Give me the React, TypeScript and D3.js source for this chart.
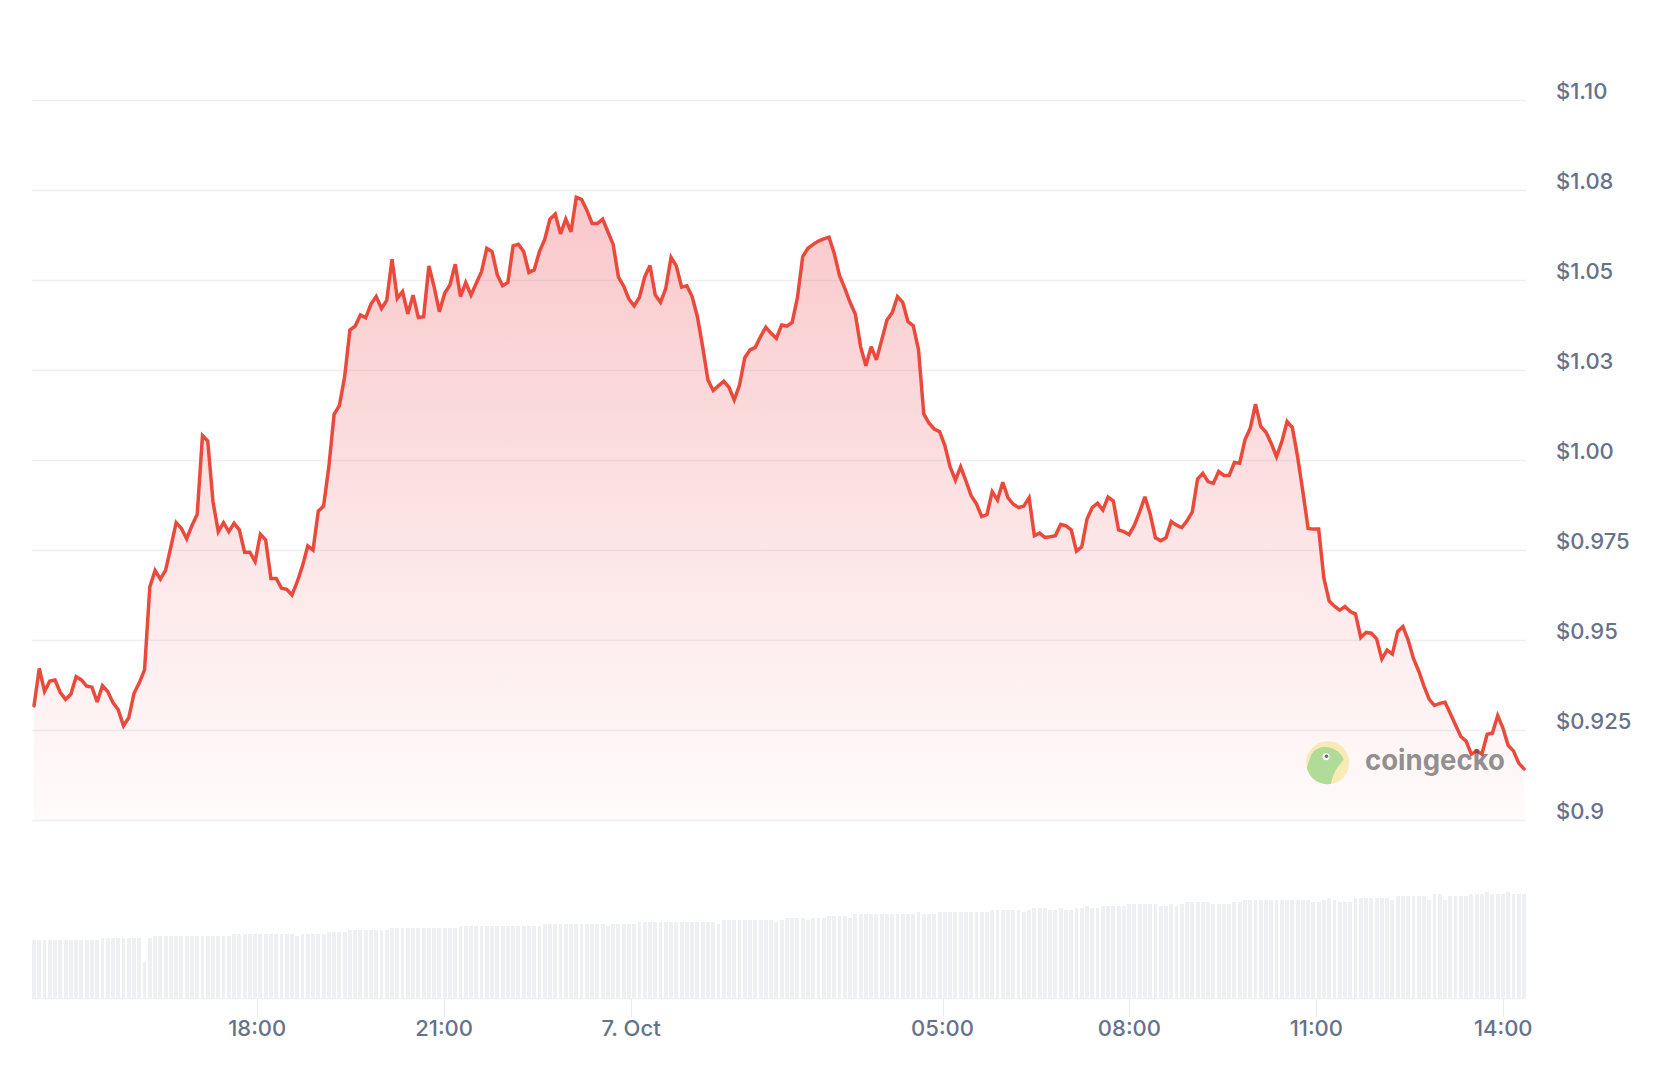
import React from 'react';
import * as d3 from 'd3';

// 5-minute price samples (USD), 6 Oct 14:25 → 7 Oct 14:20 (UTC)
const PRICES: number[] = [
  0.9317, 0.9421, 0.9357, 0.9386, 0.9389, 0.9354, 0.9335, 0.9349, 0.9398, 0.9389,
  0.9372, 0.9369, 0.9328, 0.9373, 0.9357, 0.9326, 0.9306, 0.9262, 0.9284, 0.9352,
  0.9381, 0.9417, 0.9648, 0.9693, 0.9669, 0.9694, 0.9759, 0.9826, 0.9810, 0.9781,
  0.9818, 0.9849, 1.0068, 1.0053, 0.9884, 0.9801, 0.9826, 0.9801, 0.9824, 0.9806,
  0.9744, 0.9744, 0.9718, 0.9794, 0.9778, 0.9671, 0.9671, 0.9644, 0.9641, 0.9625,
  0.9662, 0.9706, 0.9761, 0.9750, 0.9858, 0.9872, 0.9981, 1.0127, 1.0151,
  1.0231, 1.0361, 1.0372, 1.0403, 1.0395, 1.0433, 1.0454, 1.0421, 1.0444, 1.0558,
  1.0449, 1.0468, 1.0406, 1.0458, 1.0396, 1.0398, 1.0539, 1.0481, 1.0412, 1.0463,
  1.0486, 1.0544, 1.0454, 1.0493, 1.0458, 1.0491, 1.0523, 1.0588, 1.0579, 1.0514,
  1.0484, 1.0493, 1.0595, 1.0599, 1.0579, 1.0521, 1.0528, 1.0579, 1.0613, 1.0669,
  1.0683, 1.0628, 1.0669, 1.0634, 1.0730, 1.0724, 1.0694, 1.0657, 1.0657, 1.0669,
  1.0634, 1.0599, 1.0508, 1.0483, 1.0447, 1.0428, 1.0452, 1.0509, 1.0540, 1.0458,
  1.0438, 1.0477, 1.0563, 1.0539, 1.0480, 1.0484, 1.0454, 1.0398, 1.0315, 1.0222,
  1.0193, 1.0206, 1.0219, 1.0202, 1.0167,
  1.0208, 1.0284, 1.0306, 1.0313, 1.0343, 1.0369, 1.0352, 1.0338, 1.0375, 1.0372,
  1.0382, 1.0451, 1.0565, 1.0588, 1.0599, 1.0608, 1.0614, 1.0619, 1.0574, 1.0512,
  1.0477, 1.0438, 1.0405, 1.0315, 1.0262, 1.0315, 1.0278, 1.0333, 1.0389, 1.0409,
  1.0454, 1.0438, 1.0384, 1.0373, 1.0306, 1.0128, 1.0102, 1.0086, 1.0079, 1.0040,
  0.9981, 0.9944, 0.9981, 0.9942, 0.9901, 0.9878, 0.9843, 0.9849, 0.9912, 0.9889,
  0.9938, 0.9895, 0.9877, 0.9868, 0.9872, 0.9895, 0.9790, 0.9797, 0.9785, 0.9787,
  0.9790, 0.9821, 0.9817, 0.9806, 0.9747, 0.9759, 0.9836, 0.9868, 0.9880, 0.9861,
  0.9897, 0.9886, 0.9806, 0.9801, 0.9793,
  0.9819, 0.9856, 0.9898, 0.9850, 0.9784, 0.9776, 0.9784, 0.9829, 0.9819, 0.9812,
  0.9831, 0.9856, 0.9947, 0.9963, 0.9940, 0.9935, 0.9968, 0.9957, 0.9957, 0.9993,
  0.9991, 1.0056, 1.0088, 1.0155, 1.0093, 1.0077, 1.0046, 1.0009, 1.0051, 1.0107,
  1.0090, 1.0009, 0.9912, 0.9810, 0.9808, 0.9808, 0.9671, 0.9608, 0.9594, 0.9583,
  0.9593, 0.9579, 0.9572, 0.9507, 0.9521, 0.9519, 0.9503, 0.9447, 0.9472, 0.9461,
  0.9523, 0.9537, 0.9500, 0.9449, 0.9414, 0.9372, 0.9335, 0.9318, 0.9324, 0.9327,
  0.9296, 0.9264, 0.9232, 0.9219, 0.9183, 0.9192, 0.9183, 0.9238, 0.9241, 0.9290,
  0.9255, 0.9207, 0.9192, 0.9158, 0.9142,
];

// Rolling volume per sample (USD millions)
const VOLUMES: number[] = [
  29, 29, 29, 29, 29, 29, 29, 29, 29, 29, 29, 29, 29,
  30, 30, 30, 30, 30, 30, 30, 30, 18, 30,
  31, 31, 31, 31, 31, 31, 31, 31, 31, 31, 31, 31, 31, 31, 31,
  32, 32, 32, 32, 32, 32, 32, 32, 32, 32, 32, 32, 31, 32, 32, 32, 32, 32,
  33, 33, 33, 33, 34, 34, 34, 34, 34, 34, 34, 34,
  35, 35, 35, 35, 35, 35, 35, 35, 35, 35, 35, 35, 35,
  36, 36, 36, 36, 36, 36, 36, 36, 36, 36, 36, 36, 36, 36, 36, 36,
  37, 37, 37, 37, 37, 37, 37, 37, 37, 37, 37, 37, 36, 37, 37, 37, 37, 37,
  38, 38, 38, 38, 38, 38, 38, 38, 38, 38, 38, 38, 38, 38, 38,
  37, 39, 39, 39, 39, 39, 39, 39, 39, 39, 39, 38, 39,
  40, 40, 40, 40, 39, 40, 40, 40, 41, 41, 41, 41, 40,
  42, 42, 42, 42, 42, 42, 42, 42, 42, 42, 42,
  42, 43, 42, 42, 42,
  43, 43, 43, 43, 43, 43, 43, 43, 43, 43,
  44, 44, 44, 44, 44, 44, 43, 44, 45, 45, 45,
  44, 44, 45, 44, 44, 45, 45, 46, 45, 45,
  46, 46, 46, 46, 46, 47, 47, 47, 47, 47, 47,
  46, 46, 47, 46, 47, 48, 48, 48, 48, 48,
  47, 47, 47, 47, 48, 48,
  49, 49, 49, 49, 49, 49, 49, 49, 49, 49, 49, 49, 49,
  48, 48, 49, 50, 49, 48, 48, 48,
  50, 50, 50, 50, 50, 50, 50, 49,
  51, 51, 51, 51, 51, 51, 49, 52, 52, 49,
  51, 51, 51, 51, 52, 52, 52, 53, 52, 52, 52, 53, 52, 52, 52,
];

const PRICE_TICKS: number[] = [0.9, 0.925, 0.95, 0.975, 1.0, 1.025, 1.05, 1.075, 1.1];
const PRICE_TICK_LABELS: string[] = ['$0.9', '$0.925', '$0.95', '$0.975', '$1.00', '$1.03', '$1.05', '$1.08', '$1.10'];

const TIME_TICKS: Date[] = [
  new Date(Date.UTC(2024, 9, 6, 18, 0)),
  new Date(Date.UTC(2024, 9, 6, 21, 0)),
  new Date(Date.UTC(2024, 9, 7, 0, 0)),
  new Date(Date.UTC(2024, 9, 7, 5, 0)),
  new Date(Date.UTC(2024, 9, 7, 8, 0)),
  new Date(Date.UTC(2024, 9, 7, 11, 0)),
  new Date(Date.UTC(2024, 9, 7, 14, 0)),
];
const TIME_TICK_LABELS: string[] = ['18:00', '21:00', '7. Oct', '05:00', '08:00', '11:00', '14:00'];

const START = new Date(Date.UTC(2024, 9, 6, 14, 25));
const END = new Date(Date.UTC(2024, 9, 7, 14, 20));

const FONT = "Inter, 'Noto Sans', sans-serif";
const LABEL_COLOR = '#66728a';
const LINE_COLOR = '#ea4a3c';

export default function App() {
  const W = 1662;
  const H = 1068;
  const x = d3.scaleUtc().domain([START, END]).range([34, 1524]);
  const y = d3.scaleLinear().domain([0.9, 1.1]).range([820, 100]);
  const yv = d3.scaleLinear().domain([0, 60]).range([998, 878]);

  const n = PRICES.length;
  const span = END.getTime() - START.getTime();
  const times = PRICES.map((_, i) => new Date(START.getTime() + (span * i) / (n - 1)));
  const vTimes = VOLUMES.map((_, i) => new Date(START.getTime() + (span * i) / (VOLUMES.length - 1)));

  const line = d3.line<number>().x((_, i) => x(times[i])).y((d) => y(d));
  const area = d3.area<number>().x((_, i) => x(times[i])).y0(y(0.9)).y1((d) => y(d));

  const step = (x(END) - x(START)) / (VOLUMES.length - 1);
  const bw = step - 1.4;

  const cx = 1327.7;
  const cy = 762.7;

  return (
    <svg
      width={W}
      height={H}
      viewBox={`0 0 ${W} ${H}`}
      style={{ position: 'absolute', left: 0, top: 0, background: '#fff' }}
    >
      <defs>
        <linearGradient id="areaGrad" gradientUnits="userSpaceOnUse" x1="0" y1="195" x2="0" y2="820">
          <stop offset="0" stopColor="#ea3943" stopOpacity={0.28} />
          <stop offset="0.55" stopColor="#ea3943" stopOpacity={0.13} />
          <stop offset="1" stopColor="#ea3943" stopOpacity={0.02} />
        </linearGradient>
        <clipPath id="logoClip">
          <circle cx={cx} cy={cy} r={21.5} />
        </clipPath>
      </defs>
      <rect x={0} y={0} width={W} height={H} fill="#fff" />

      {/* grid lines */}
      {PRICE_TICKS.map((t) => (
        <line
          key={'g' + t}
          x1={32}
          x2={1526}
          y1={Math.round(y(t)) + 0.5}
          y2={Math.round(y(t)) + 0.5}
          stroke="#eeeff3"
          strokeWidth={1.3}
        />
      ))}

      {/* volume bars */}
      {VOLUMES.map((v, i) => (
        <rect
          key={'v' + i}
          x={x(vTimes[i]) - bw / 2}
          y={yv(v)}
          width={bw}
          height={yv(0) - yv(v)}
          fill="#eff0f4"
          shapeRendering="crispEdges"
        />
      ))}
      <line x1={32} x2={1526} y1={998.5} y2={998.5} stroke="#eff0f4" strokeWidth={1} />

      {/* x ticks */}
      {TIME_TICKS.map((t, i) => (
        <g key={'xt' + i}>
          <line
            x1={Math.round(x(t)) + 0.5}
            x2={Math.round(x(t)) + 0.5}
            y1={999}
            y2={1017}
            stroke="#e8eaee"
            strokeWidth={1}
          />
          <text
            x={x(t)}
            y={1036}
            textAnchor="middle"
            fontFamily={FONT}
            fontSize={22}
            fontWeight={500}
            fill={LABEL_COLOR}
          >
            {TIME_TICK_LABELS[i]}
          </text>
        </g>
      ))}

      {/* area + line */}
      <path d={area(PRICES) || ''} fill="url(#areaGrad)" />
      <path
        d={line(PRICES) || ''}
        fill="none"
        stroke={LINE_COLOR}
        strokeWidth={3.5}
        strokeLinejoin="miter"
        strokeMiterlimit={3}
        strokeLinecap="round"
      />

      {/* y labels */}
      {PRICE_TICKS.map((t, i) => (
        <text
          key={'yl' + t}
          x={1556}
          y={y(t) - 1}
          fontFamily={FONT}
          fontSize={22}
          fontWeight={500}
          fill={LABEL_COLOR}
        >
          {PRICE_TICK_LABELS[i]}
        </text>
      ))}

      {/* watermark */}
      <g opacity={0.75}>
        <circle cx={cx} cy={cy} r={21.5} fill="#f8e7a0" />
        <path
          clipPath="url(#logoClip)"
          d={`M ${cx - 22} ${cy + 9} L ${cx - 17} ${cy - 7} C ${cx - 13} ${cy - 15} ${cx - 5} ${cy - 17} ${cx + 3} ${cy - 15} C ${cx + 10} ${cy - 13} ${cx + 15} ${cy - 7} ${cx + 16} ${cy - 3} C ${cx + 11} ${cy + 3} ${cx + 5} ${cy + 9} ${cx + 3} ${cy + 23} L ${cx - 22} ${cy + 23} Z`}
          fill="#96d378"
        />
        <circle cx={cx - 1.7} cy={cy - 6} r={3.6} fill="#ffffff" />
        <circle cx={cx - 1.2} cy={cy - 6.5} r={1.7} fill="#3a3a3a" />
      </g>
      <text
        x={1365}
        y={770}
        fontFamily={FONT}
        fontSize={28}
        fontWeight={700}
        fill="#4a4a4a"
        fillOpacity={0.62}
        textLength={140}
        lengthAdjust="spacingAndGlyphs"
      >
        coingecko
      </text>
    </svg>
  );
}
